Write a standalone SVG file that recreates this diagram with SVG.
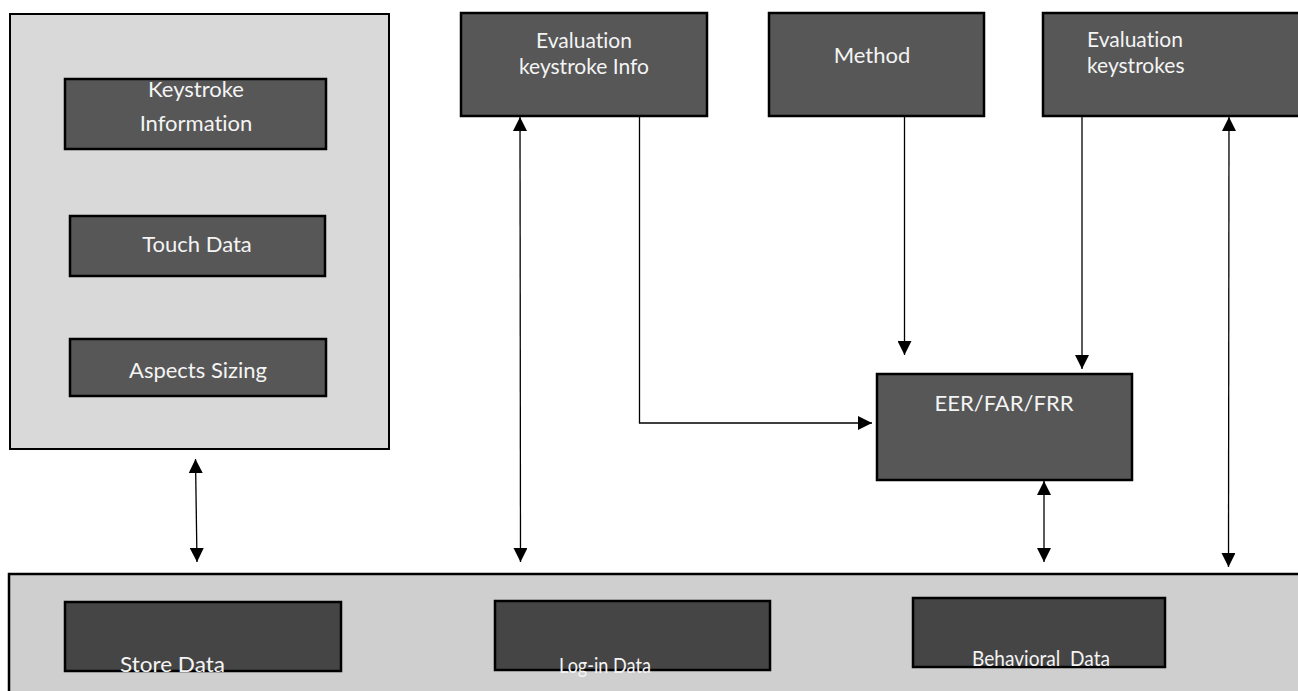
<svg xmlns="http://www.w3.org/2000/svg" width="1298" height="691" viewBox="0 0 1298 691">
<style>
.panel{fill:#d9d9d9;stroke:#000;stroke-width:2}
.panel2{fill:#d0cfd0;stroke:#000;stroke-width:2.5}
.box{fill:#575757;stroke:#000;stroke-width:2.5}
.dbox{fill:#454545;stroke:#000;stroke-width:2.5}
.t{font-family:Lato,"Open Sans","Liberation Sans",sans-serif;font-size:22px;fill:#f4f4f4;font-variant-ligatures:none}
.t2{font-size:21px}
.c{stroke:#000;stroke-width:1.3;fill:none}
</style>
<defs>
<marker id="ah" viewBox="0 0 10 10" refX="10" refY="5" markerWidth="14" markerHeight="14" markerUnits="userSpaceOnUse" orient="auto-start-reverse">
<path d="M0,0 L10,5 L0,10 Z" fill="#000"/>
</marker>
</defs>
<rect width="1298" height="691" fill="#fff"/>
<g id="left-panel">
<rect class="panel" x="10" y="14" width="379" height="435"/>
</g>
<g id="keystroke-info">
<rect class="box" x="65" y="79" width="261" height="70"/>
<text class="t" x="196" y="97" text-anchor="middle">Keystroke</text>
<text class="t" x="196" y="131" text-anchor="middle">Information</text>
</g>
<g id="touch-data">
<rect class="box" x="70" y="216" width="255" height="60"/>
<text class="t" x="197" y="252" text-anchor="middle">Touch Data</text>
</g>
<g id="aspects-sizing">
<rect class="box" x="70" y="339" width="256" height="57"/>
<text class="t" x="198" y="378" text-anchor="middle">Aspects Sizing</text>
</g>
<g id="bottom-panel">
<rect class="panel2" x="9" y="574" width="1300" height="130"/>
</g>
<g id="store-data">
<rect class="dbox" x="65" y="602" width="276" height="69"/>
<text class="t" x="120" y="672" textLength="105" lengthAdjust="spacingAndGlyphs">Store Data</text>
</g>
<g id="login-data">
<rect class="dbox" x="495" y="601" width="275" height="69"/>
<text class="t" x="559" y="673" textLength="92" lengthAdjust="spacingAndGlyphs">Log-in Data</text>
</g>
<g id="behavioral-data">
<rect class="dbox" x="913" y="598" width="252" height="69"/>
<text class="t" x="972" y="666" textLength="138" lengthAdjust="spacingAndGlyphs" xml:space="preserve">Behavioral  Data</text>
</g>
<g id="eval-keystroke-info">
<rect class="box" x="461" y="13" width="246" height="103"/>
<text class="t t2" x="584" y="48" text-anchor="middle">Evaluation</text>
<text class="t t2" x="584" y="74" text-anchor="middle">keystroke Info</text>
</g>
<g id="method">
<rect class="box" x="769" y="13" width="215" height="103"/>
<text class="t" x="872" y="63" text-anchor="middle">Method</text>
</g>
<g id="eval-keystrokes">
<rect class="box" x="1043" y="13" width="262" height="103"/>
<text class="t t2" x="1087" y="47">Evaluation</text>
<text class="t t2" x="1087" y="73">keystrokes</text>
</g>
<g id="eer-far-frr">
<rect class="box" x="877" y="374" width="255" height="106"/>
<text class="t" x="1004" y="411" text-anchor="middle">EER/FAR/FRR</text>
</g>
<g id="connectors">
<line class="c" x1="195.5" y1="459" x2="197" y2="562" marker-start="url(#ah)" marker-end="url(#ah)"/>
<line class="c" x1="520" y1="117" x2="520.5" y2="562" marker-start="url(#ah)" marker-end="url(#ah)"/>
<polyline class="c" points="639.5,117 639.5,423 872,423" marker-end="url(#ah)"/>
<line class="c" x1="904.5" y1="117" x2="904.5" y2="355" marker-end="url(#ah)"/>
<line class="c" x1="1082" y1="117" x2="1082" y2="369" marker-end="url(#ah)"/>
<line class="c" x1="1044" y1="481" x2="1044" y2="562" marker-start="url(#ah)" marker-end="url(#ah)"/>
<line class="c" x1="1229" y1="117" x2="1228.5" y2="567" marker-start="url(#ah)" marker-end="url(#ah)"/>
</g>
</svg>
